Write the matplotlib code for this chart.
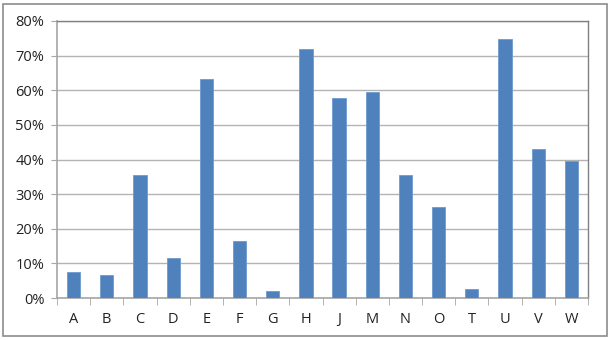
import matplotlib.pyplot as plt
from matplotlib.patches import Rectangle
from matplotlib.ticker import PercentFormatter, FixedLocator, NullFormatter

labels = ['A', 'B', 'C', 'D', 'E', 'F', 'G', 'H', 'J', 'M', 'N', 'O', 'T', 'U', 'V', 'W']
values = [7.6, 6.6, 35.6, 11.5, 63.2, 16.5, 2.0, 71.9, 57.8, 59.5, 35.6, 26.2, 2.5, 74.7, 43.1, 39.7]

plt.rcParams['font.family'] = ['Open Sans', 'DejaVu Sans']

fig = plt.figure(figsize=(6.1, 3.4), dpi=100)
ax = fig.add_axes([57/610, 1-298/340, (588-57)/610, (298-21)/340])

x = range(len(labels))
ax.bar(x, values, width=0.4, color='#4f81bd', edgecolor='#6f9bd0', linewidth=0.6, zorder=3)

ax.set_xlim(-0.5, len(labels)-0.5)
ax.set_ylim(0, 80)
ax.set_yticks(range(0, 81, 10))
ax.yaxis.set_major_formatter(PercentFormatter(decimals=0))
ax.grid(axis='y', color='#b3b3b3', linewidth=1.0, zorder=0)

ax.set_xticks(list(x))
ax.set_xticklabels(labels)
ax.xaxis.set_minor_locator(FixedLocator([i-0.5 for i in range(len(labels)+1)]))
ax.xaxis.set_minor_formatter(NullFormatter())
ax.tick_params(axis='x', which='major', length=0, pad=10, labelsize=10.5, labelcolor='#222222')
ax.tick_params(axis='x', which='minor', length=5, color='#a6a6a6', direction='out')
ax.tick_params(axis='y', length=4, color='#a6a6a6', labelsize=10.5, labelcolor='#222222', pad=5)

for s in ['left', 'bottom']:
    ax.spines[s].set_color('#a6a6a6')
    ax.spines[s].set_linewidth(1.2)
for s in ['top', 'right']:
    ax.spines[s].set_color('#808080')
    ax.spines[s].set_linewidth(1.0)

fig.patches.append(Rectangle((3/610, 4/340), 604/610, 332/340, transform=fig.transFigure,
                             fill=False, edgecolor='#8c8c8c', linewidth=1.2))

plt.savefig('out.png', dpi=100)
